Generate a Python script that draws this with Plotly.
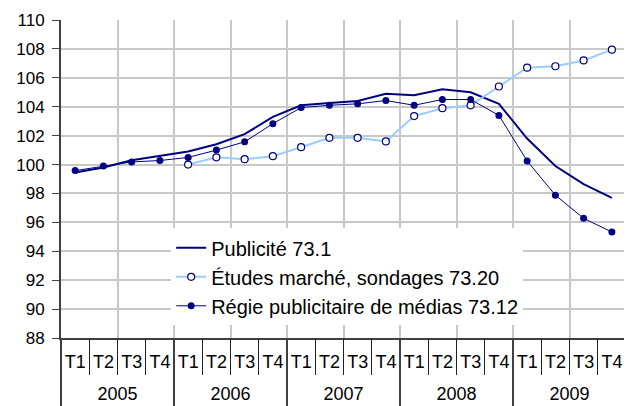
import plotly.graph_objects as go

years = ["2005", "2006", "2007", "2008", "2009"]
quarters = ["T1", "T2", "T3", "T4"]
periods = [f"{y} {q}" for y in years for q in quarters]
quarter_labels = [q for y in years for q in quarters]

publicite = [99.45, 99.8, 100.3, 100.6, 100.9, 101.4, 102.1, 103.3, 104.1, 104.25,
             104.4, 104.9, 104.8, 105.2, 105.0, 104.2, 101.8, 99.9, 98.65, 97.7]
etudes = [None, None, None, None, 100.0, 100.5, 100.37, 100.58, 101.2, 101.85,
          101.85, 101.6, 103.35, 103.9, 104.1, 105.4, 106.7, 106.8, 107.2, 107.95]
regie = [99.58, 99.9, 100.18, 100.28, 100.49, 101.0, 101.57, 102.83, 103.94, 104.1,
         104.2, 104.43, 104.1, 104.5, 104.5, 103.4, 100.25, 97.88, 96.28, 95.33]

font = "Liberation Sans"
grid = "#c8c8c8"
n = len(periods)
rng = [-0.5, n - 0.5]
quarter_bounds = [i + 0.5 for i in range(n - 1)]
year_bounds = [i * 4 - 0.5 for i in range(len(years) + 1)]
year_centers = [i * 4 + 1.5 for i in range(len(years))]

fig = go.Figure()
fig.add_trace(go.Scatter(x=periods, y=publicite, mode="lines",
                         name="Publicité 73.1",
                         line=dict(color="#000080", width=2)))
fig.add_trace(go.Scatter(x=periods, y=etudes, mode="lines+markers",
                         name="Études marché, sondages 73.20",
                         line=dict(color="#99ccff", width=2),
                         marker=dict(symbol="circle", size=7, color="white",
                                     line=dict(color="#000080", width=1.2))))
fig.add_trace(go.Scatter(x=periods, y=regie, mode="lines+markers",
                         name="Régie publicitaire de médias 73.12",
                         line=dict(color="#000080", width=1),
                         marker=dict(symbol="circle", size=7, color="#000080")))

# invisible traces to drive the helper axes
for ax in ["x2", "x3", "x4"]:
    fig.add_trace(go.Scatter(x=[0, n - 1], y=[None, None], xaxis=ax, showlegend=False,
                             hoverinfo="skip"))

fig.update_layout(
    width=624, height=398,
    margin=dict(l=53, r=6, t=12, b=68),
    paper_bgcolor="white", plot_bgcolor="white",
    font=dict(family=font, size=18, color="black"),
    showlegend=True,
    legend=dict(x=0.195, y=0.345, xanchor="left", yanchor="top",
                bgcolor="white", font=dict(size=20, family=font),
                borderwidth=0, itemwidth=30, tracegroupgap=0),
    # quarter labels
    xaxis=dict(type="category", range=rng, tickvals=periods, ticktext=quarter_labels,
               showgrid=False, ticks="", tickangle=0, ticklabelstandoff=6,
               showline=True, linecolor="#404040", linewidth=2,
               tickfont=dict(size=18, family=font, color="black"),
               zeroline=False, automargin=False),
    # quarter separators
    xaxis2=dict(overlaying="x", anchor="y", side="bottom", range=rng,
                tickvals=quarter_bounds, showticklabels=False, showgrid=False,
                ticks="outside", ticklen=36, tickwidth=1, tickcolor="#202020",
                zeroline=False, showline=False, automargin=False),
    # year boundaries (dividers + gridlines)
    xaxis3=dict(overlaying="x", anchor="y", side="bottom", range=rng,
                tickvals=year_bounds, showticklabels=False, showgrid=True,
                gridcolor=grid, gridwidth=1.5,
                ticks="outside", ticklen=70, tickwidth=1.5, tickcolor="#404040",
                zeroline=False, showline=False, automargin=False),
    # year labels + mid-year gridlines
    xaxis4=dict(overlaying="x", anchor="y", side="bottom", range=rng,
                tickvals=year_centers, ticktext=years, showgrid=True,
                gridcolor=grid, gridwidth=1.5, ticks="", ticklabelstandoff=43,
                tickangle=0, tickfont=dict(size=18, family=font, color="black"),
                zeroline=False, showline=False, automargin=False),
    yaxis=dict(range=[88, 110], dtick=2, tick0=88, showgrid=True, gridcolor=grid,
               gridwidth=1.5, ticks="outside", ticklen=7, tickcolor="#404040",
               showline=True, linecolor="#404040", linewidth=2, zeroline=False,
               ticklabelstandoff=4,
               tickfont=dict(size=17, family=font, color="black"), automargin=False),
    yaxis2=dict(overlaying="y", side="right", range=[88, 110],
                showticklabels=False, showgrid=False, showline=True,
                linecolor=grid, linewidth=1.5, zeroline=False,
                anchor="x", automargin=False),
)

fig.write_html("out.html")
